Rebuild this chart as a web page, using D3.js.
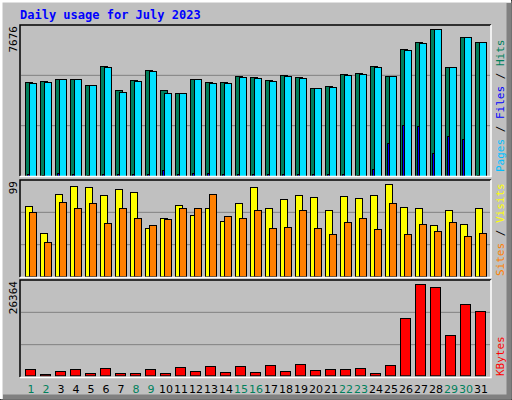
<!DOCTYPE html>
<html><head><meta charset="utf-8">
<script src="https://cdn.jsdelivr.net/npm/d3@7"></script>
<style>body{margin:0;background:#fff}svg{display:block}</style>
</head><body>
<script>
const days = d3.range(1, 32);
const weekend = [1,2,8,9,15,16,22,23,29,30];
const hits  = [4907,4996,5100,5100,4787,5779,4474,5048,5570,4474,4369,5100,4943,4943,5257,5204,5048,5309,5204,4630,4735,5361,5413,5779,5257,6666,7031,7676,5726,7292,7031];
const pages = [4850,4940,5050,5050,4740,5720,4420,4990,5510,4317,4317,5050,4890,4890,5200,5150,4990,5250,5150,4580,4680,5310,5360,5720,5257,6610,6980,7676,5726,7292,7031];
const files = [100,30,150,100,50,100,120,100,120,313,100,150,150,100,100,120,100,100,100,100,90,100,60,365,1706,2646,2594,1185,2072,1931,60];
const visits = [76,47,89,97,96,87,94,91,52,63,77,66,74,59,79,96,74,83,88,85,71,86,84,87,99,75,73,55,71,56,74];
const sites  = [69,37,80,74,79,57,73,63,55,62,73,73,89,65,63,71,52,53,71,52,46,58,63,51,79,45,56,49,58,43,47];
const kbytes = [1738,290,1159,1738,579,2028,579,579,1738,579,2318,1159,2607,869,2607,869,2897,1159,3187,1449,1738,1738,2028,579,2897,16513,26364,25494,11588,20569,18541];

const W=512,H=400;
const svg=d3.select("body").append("svg").attr("width",W).attr("height",H);
svg.append("rect").attr("width",W).attr("height",H).attr("fill","#c0c0c0");
// bevel
svg.append("rect").attr("x",0).attr("y",0).attr("width",W).attr("height",H).attr("fill","none").attr("stroke","#000").attr("stroke-width",1);
svg.append("path").attr("d",`M1,${H-1}V1H${W-1}`).attr("stroke","#fff").attr("stroke-width",3).attr("fill","none");
svg.append("path").attr("d",`M3,${H-3}H${W-3}V3`).attr("stroke","#808080").attr("stroke-width",5).attr("fill","none");

svg.append("text").attr("x",20).attr("y",19).attr("font-family","DejaVu Sans Mono").attr("font-weight","bold")
  .attr("font-size",12).attr("fill","#0000ff").text("Daily usage for July 2023");

const x=d3.scaleLinear().domain([1,31]).range([25,475]);
const panels=[{t:25,b:176},{t:180,b:277},{t:280,b:377}];
panels.forEach(p=>{
  [1/3,2/3].forEach(f=>{
    const yy=p.t+(p.b-p.t)*f;
    svg.append("line").attr("x1",21).attr("x2",490).attr("y1",yy).attr("y2",yy).attr("stroke","#808080");
  });
});
const yTop=d3.scaleLinear().domain([0,7676]).range([176,29.3]);
const yMid=d3.scaleLinear().domain([0,99]).range([276.3,184.3]);
const yBot=d3.scaleLinear().domain([0,26364]).range([375.3,284.3]);

function bars(vals,y,off,w,color){
  svg.append("g").selectAll("rect").data(vals).join("rect")
   .attr("x",(d,i)=>x(days[i])+off+0.5).attr("y",d=>Math.round(y(d))+0.5)
   .attr("width",w).attr("height",d=>Math.max(0,y(0)-Math.round(y(d))))
   .attr("fill",color).attr("stroke","#000").attr("stroke-width",1);
}
bars(hits,yTop,0,7,"#00805c");
bars(files,yTop,2,2,"#0000ff");
bars(pages,yTop,4,7,"#00e0ff");
bars(visits,yMid,0,7,"#ffff00");
bars(sites,yMid,4,7,"#ff8000");
bars(kbytes,yBot,0,10,"#ff0000");

// panel frames
panels.forEach(p=>{
  svg.append("path").attr("d",`M20,${p.b}V${p.t}H491`).attr("stroke","#000").attr("stroke-width",1.5).attr("fill","none");
  svg.append("path").attr("d",`M20,${p.b+0.5}H491V${p.t}`).attr("stroke","#fff").attr("stroke-width",1.5).attr("fill","none");
});

// left max labels
const lab=(txt,xx,yy,anchor,color)=>svg.append("text").attr("transform",`translate(${xx},${yy}) rotate(-90)`)
  .attr("text-anchor",anchor).attr("font-family","DejaVu Sans Mono").attr("font-size",11).attr("fill",color).text(txt);
lab(d3.max(hits),17,26,"end","#000");
lab(d3.max(visits),17,181,"end","#000");
lab(d3.max(kbytes),17,281,"end","#000");

function rlab(parts,yy){
  const t=svg.append("text").attr("transform",`translate(504,${yy}) rotate(-90)`)
    .attr("font-family","DejaVu Sans Mono").attr("font-size",11);
  parts.forEach(([s,c])=>t.append("tspan").attr("fill",c).text(s));
}
rlab([["Pages","#00c0ff"],[" / ","#000"],["Files","#0000ff"],[" / ","#000"],["Hits","#00805c"]],172);
rlab([["Sites","#ff8000"],[" / ","#000"],["Visits","#ffff00"]],276);
rlab([["KBytes","#ff0000"]],376);

svg.append("g").selectAll("text").data(days).join("text")
  .attr("x",d=>x(d)+6).attr("y",393).attr("text-anchor","middle")
  .attr("font-family","DejaVu Sans").attr("font-size",11)
  .attr("fill",d=>weekend.includes(d)?"#00805c":"#000").text(d=>d);
</script>
</body></html>
